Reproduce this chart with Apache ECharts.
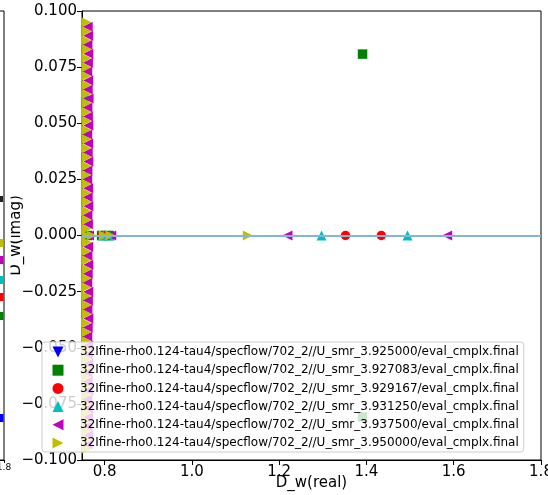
<!DOCTYPE html>
<html>
<head>
<meta charset="utf-8">
<script src="https://cdn.jsdelivr.net/npm/echarts@6/dist/echarts.min.js"></script>
<style>
  html, body { margin: 0; padding: 0; background: #fff; }
  #chart { width: 548px; height: 495px; }
</style>
</head>
<body>
<div id="chart"></div>
<script>
// === DATA ===
const seriesNames = [
  '32Ifine-rho0.124-tau4/specflow/702_2//U_smr_3.925000/eval_cmplx.final',
  '32Ifine-rho0.124-tau4/specflow/702_2//U_smr_3.927083/eval_cmplx.final',
  '32Ifine-rho0.124-tau4/specflow/702_2//U_smr_3.929167/eval_cmplx.final',
  '32Ifine-rho0.124-tau4/specflow/702_2//U_smr_3.931250/eval_cmplx.final',
  '32Ifine-rho0.124-tau4/specflow/702_2//U_smr_3.937500/eval_cmplx.final',
  '32Ifine-rho0.124-tau4/specflow/702_2//U_smr_3.950000/eval_cmplx.final'
];
const xTicks = [0.8, 1.0, 1.2, 1.4, 1.6, 1.8];
const yTicksMin = -0.1, yTicksMax = 0.1, yTickStep = 0.025;

// points per series: [real, imag]
const blueData = [];
const greenData = [
  [1.391, 0.0808], [1.391, -0.0808],
  [0.760, 0.0], [0.793, 0.0], [0.810, 0.0]
];
const redData = [
  [1.352, 0.0], [1.434, 0.0], [0.795, 0.0]
];
const cyanData = [
  [1.297, 0.0], [1.494, 0.0],
  [0.796, 0.0], [0.811, 0.0],
  [0.7585, 0.027], [0.7585, 0.046], [0.7585, -0.027], [0.7585, -0.071], [0.7585, 0.062]
];
const magentaData = [
  [1.219, 0.0], [1.585, 0.0],
  [0.764, 0.0], [0.800, 0.0], [0.815, 0.0],
  [0.7610, 0.093], [0.7620, 0.089], [0.7605, 0.085], [0.7625, 0.081], [0.7615, 0.077],
  [0.7600, 0.073], [0.7620, 0.069], [0.7610, 0.065], [0.7630, 0.061], [0.7605, 0.057],
  [0.7615, 0.053], [0.7625, 0.049], [0.7600, 0.045], [0.7620, 0.041], [0.7610, 0.037],
  [0.7625, 0.033], [0.7605, 0.029], [0.7600, 0.025], [0.7620, 0.021], [0.7610, 0.017],
  [0.7625, 0.013], [0.7605, 0.009], [0.7615, 0.005],
  [0.7620, -0.005], [0.7605, -0.009], [0.7625, -0.013], [0.7610, -0.017], [0.7600, -0.021],
  [0.7625, -0.025], [0.7615, -0.029], [0.7605, -0.033], [0.7625, -0.037], [0.7610, -0.041],
  [0.7600, -0.045], [0.7620, -0.049], [0.7615, -0.053], [0.7630, -0.057], [0.7605, -0.061],
  [0.7610, -0.065], [0.7625, -0.069], [0.7600, -0.073], [0.7615, -0.077], [0.7620, -0.081],
  [0.7605, -0.085], [0.7625, -0.089], [0.7610, -0.093]
];
const yellowData = [
  [1.128, 0.0],
  [0.7585, 0.0], [0.770, 0.0], [0.798, 0.0], [0.813, 0.0],
  [0.7580, 0.095], [0.7585, 0.091], [0.7575, 0.087], [0.7590, 0.083], [0.7580, 0.079],
  [0.7585, 0.075], [0.7575, 0.071], [0.7585, 0.067], [0.7580, 0.063], [0.7590, 0.059],
  [0.7575, 0.055], [0.7585, 0.051], [0.7580, 0.047], [0.7585, 0.043], [0.7575, 0.039],
  [0.7590, 0.035], [0.7580, 0.031], [0.7575, 0.027], [0.7585, 0.023], [0.7580, 0.019],
  [0.7585, 0.015], [0.7575, 0.011], [0.7590, 0.007], [0.7580, 0.003],
  [0.7585, -0.003], [0.7575, -0.007], [0.7580, -0.011], [0.7590, -0.015], [0.7585, -0.019],
  [0.7575, -0.023], [0.7580, -0.027], [0.7585, -0.031], [0.7590, -0.035], [0.7575, -0.039],
  [0.7585, -0.043], [0.7580, -0.047], [0.7575, -0.051], [0.7585, -0.055], [0.7590, -0.059],
  [0.7580, -0.063], [0.7585, -0.067], [0.7575, -0.071], [0.7580, -0.075], [0.7585, -0.079],
  [0.7590, -0.083], [0.7575, -0.087], [0.7580, -0.091], [0.7585, -0.095]
];

// === STYLE ===
const FONT = 'DejaVu Sans';
const TRI_DOWN = 'path://M0,0 L10,0 L5,10 Z';
const TRI_UP = 'path://M5,0 L10,10 L0,10 Z';
const TRI_LEFT = 'path://M10,0 L10,10 L0,5 Z';
const TRI_RIGHT = 'path://M0,0 L10,5 L0,10 Z';
const seriesStyle = [
  { data: blueData,    color: '#0000ff', symbol: 'triangle', rotate: 180, size: 10,  icon: TRI_DOWN },
  { data: greenData,   color: '#008000', symbol: 'rect',     rotate: 0,   size: 9.5, icon: 'rect' },
  { data: redData,     color: '#ff0000', symbol: 'circle',   rotate: 0,   size: 9.5, icon: 'circle' },
  { data: cyanData,    color: '#00bfbf', symbol: 'triangle', rotate: 0,   size: 10,  icon: TRI_UP },
  { data: magentaData, color: '#bf00bf', symbol: 'triangle', rotate: 90,  size: 10,  icon: TRI_LEFT },
  { data: yellowData,  color: '#bfbf00', symbol: 'triangle', rotate: -90, size: 10,  icon: TRI_RIGHT }
];

const chart = echarts.init(document.getElementById('chart'), null, { renderer: 'canvas' });

const fmtY = v => (v < 0 ? '\u2212' : '') + Math.abs(v).toFixed(3);

const series = seriesStyle.map((s, i) => ({
  name: seriesNames[i],
  type: 'scatter',
  xAxisIndex: 0,
  yAxisIndex: 0,
  data: s.data,
  symbol: s.symbol,
  symbolRotate: s.rotate,
  symbolSize: s.size,
  itemStyle: { color: s.color, opacity: 1 },
  z: 3,
  animation: false
}));

// horizontal line at imag = 0
series.unshift({
  type: 'line',
  xAxisIndex: 0,
  yAxisIndex: 0,
  data: [],
  z: 2,
  markLine: {
    silent: true,
    symbol: 'none',
    label: { show: false },
    lineStyle: { color: '#85b5da', width: 2, type: 'solid' },
    data: [{ yAxis: 0 }],
    animation: false
  }
});

const option = {
  animation: false,
  backgroundColor: '#fff',
  textStyle: { fontFamily: FONT },
  grid: [
    { left: 82, right: 7, top: 11, bottom: 35, outerBoundsMode: 'none', containLabel: false,
      show: true, borderColor: '#000', borderWidth: 1, backgroundColor: 'transparent' },
    { left: -300, width: 304, top: 11, bottom: 35, outerBoundsMode: 'none', containLabel: false,
      show: true, borderColor: '#000', borderWidth: 1, backgroundColor: 'transparent' }
  ],
  xAxis: [
    {
      gridIndex: 0, type: 'value', min: 0.748, max: 1.8,
      axisLine: { show: true, onZero: false, lineStyle: { color: '#000', width: 1 } },
      axisTick: { show: true, inside: false, length: 5, customValues: xTicks, lineStyle: { color: '#000' } },
      axisLabel: { show: true, margin: 5, customValues: xTicks, color: '#000', fontSize: 15, fontFamily: FONT,
                   formatter: v => v.toFixed(1) },
      splitLine: { show: false }
    },
    {
      gridIndex: 1, type: 'value', min: 0.75, max: 1.8,
      axisLine: { show: true, onZero: false, lineStyle: { color: '#000', width: 1 } },
      axisTick: { show: true, inside: false, length: 3, customValues: [1.8], lineStyle: { color: '#000' } },
      axisLabel: { show: true, margin: 3, customValues: [1.8], color: '#000', fontSize: 9, fontFamily: FONT,
                   formatter: v => v.toFixed(1) },
      splitLine: { show: false }
    }
  ],
  yAxis: [
    {
      gridIndex: 0, type: 'value', min: yTicksMin, max: yTicksMax, interval: yTickStep,
      axisLine: { show: true, onZero: false, lineStyle: { color: '#000', width: 1 } },
      axisTick: { show: true, inside: false, length: 5, lineStyle: { color: '#000' } },
      axisLabel: { show: true, margin: 5, color: '#000', fontSize: 15, fontFamily: FONT, formatter: fmtY },
      splitLine: { show: false }
    },
    {
      gridIndex: 1, type: 'value', min: yTicksMin, max: yTicksMax,
      axisLine: { show: false }, axisTick: { show: false }, axisLabel: { show: false }, splitLine: { show: false }
    }
  ],
  legend: {
    orient: 'vertical',
    left: 42,
    top: 342,
    padding: [4, 5, 3, 10.5],
    itemGap: 6.2,
    itemWidth: 11,
    itemHeight: 11,
    backgroundColor: 'rgba(255,255,255,0.8)',
    borderColor: '#cccccc',
    borderWidth: 1,
    borderRadius: 3,
    data: seriesNames.map((n, i) => ({ name: n, icon: seriesStyle[i].icon })),
    textStyle: { color: '#000', fontSize: 12, lineHeight: 12, fontFamily: FONT, padding: [0, 0, 0, 11.5] },
    selectedMode: false
  },
  graphic: [
    { type: 'text', x: 16, y: 235.5, rotation: Math.PI / 2, z: 50,
      style: { text: 'D_w(imag)', fill: '#000', font: '15px "DejaVu Sans"', textAlign: 'center', textVerticalAlign: 'middle' } },
    { type: 'rect', z: 60, shape: { x: 5, y: 180, width: 5.5, height: 110 }, style: { fill: '#fff' } },
    { type: 'text', x: 311.5, y: 483, z: 50,
      style: { text: 'D_w(real)', fill: '#000', font: '15px "DejaVu Sans"', textAlign: 'center', textVerticalAlign: 'middle' } },
    // remnants of the neighbouring panel's legend at the left edge
    { type: 'rect', z: 40, shape: { x: 0, y: 196, width: 3, height: 6 }, style: { fill: '#222' } },
    { type: 'rect', z: 40, shape: { x: 0, y: 239, width: 3.5, height: 8 }, style: { fill: '#bfbf00' } },
    { type: 'rect', z: 40, shape: { x: 0, y: 256, width: 3.5, height: 8 }, style: { fill: '#bf00bf' } },
    { type: 'rect', z: 40, shape: { x: 0, y: 276, width: 3.5, height: 8 }, style: { fill: '#00bfbf' } },
    { type: 'rect', z: 40, shape: { x: 0, y: 293, width: 3.5, height: 8 }, style: { fill: '#ff0000' } },
    { type: 'rect', z: 40, shape: { x: 0, y: 312, width: 3.5, height: 8 }, style: { fill: '#008000' } },
    { type: 'rect', z: 40, shape: { x: 0, y: 414, width: 3.5, height: 8 }, style: { fill: '#0000ff' } }
  ],
  series: series
};

chart.setOption(option);
</script>
</body>
</html>
